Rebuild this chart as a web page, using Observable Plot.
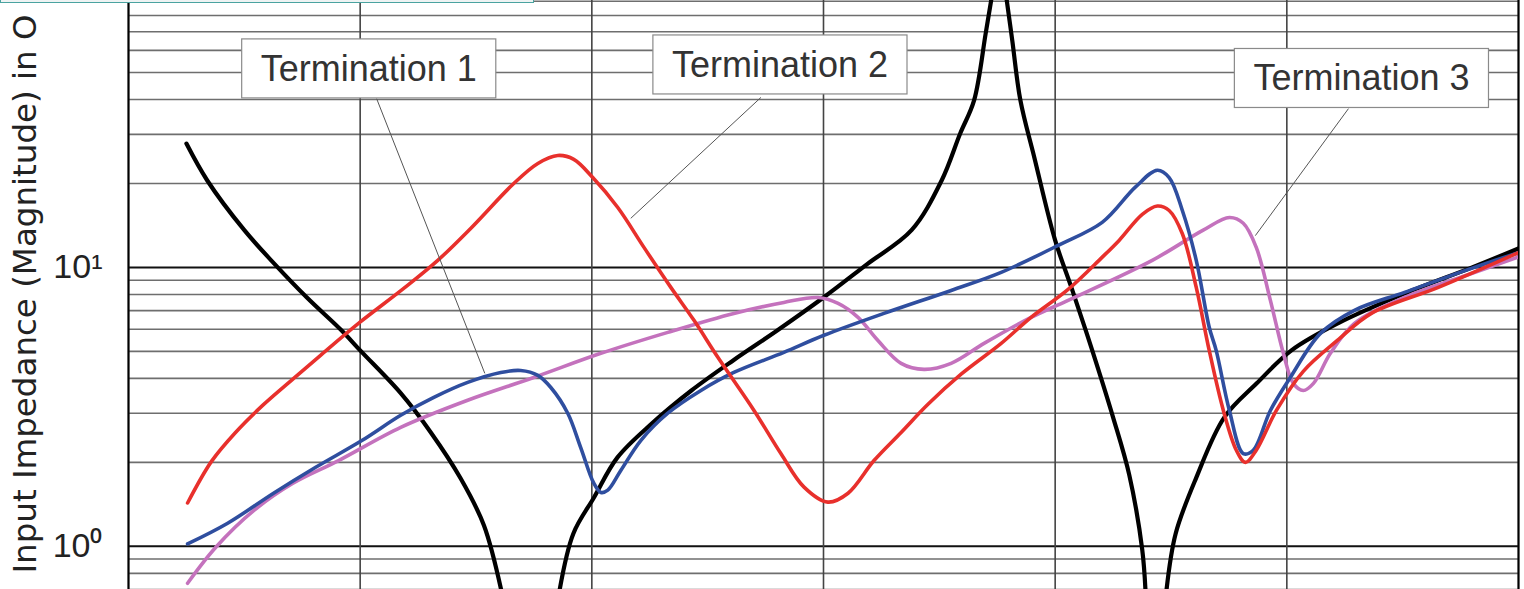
<!DOCTYPE html>
<html>
<head>
<meta charset="utf-8">
<script src="https://cdn.jsdelivr.net/npm/d3@7"></script>
<script src="https://cdn.jsdelivr.net/npm/@observablehq/plot@0.6"></script>
<style>
html, body { margin: 0; padding: 0; background: #fff; overflow: hidden; }
#wrap { position: relative; width: 1524px; height: 589px; }
#topbox { position: absolute; left: 0; top: -14px; width: 534px; height: 17px; border: 1.5px solid #4aa3a0; background: #eef3f3; box-sizing: border-box; z-index: 2; }
</style>
</head>
<body>
<div id="wrap"><div id="topbox"></div></div>
<script>
// ---- grid / ticks ----
const gridX = [0, 1, 2, 3, 4, 5, 6];
const gridYMinor = [0.7, 0.8, 0.9, 2, 3, 4, 5, 6, 7, 8, 9, 20, 30, 40, 50, 60, 70, 80, 90];
const gridYMajor = [1, 10];
const yTicks = [1, 10];
const yTickLabels = ["10⁰", "10¹"];
const yLabel = "Input Impedance (Magnitude) in O";

// ---- series (x in grid units, y = impedance magnitude) ; null = off-chart break ----
const blackU = [0.25,0.34,0.50,0.63,0.77,0.92,1.00,1.175,1.305,1.434,1.534,1.61, null,
  1.86,1.92,2.01,2.11,2.26,2.43,2.61,2.80,3.00,3.19,3.38,3.51,3.59,3.65,3.70,3.725, null,
  3.79,3.815,3.85,3.91,4.00,4.07,4.16,4.25,4.32,4.376,4.39, null,
  4.48,4.52,4.61,4.73,4.87,5.02,5.22,5.51,5.80,6.00];
const blackZ = [27.8,20.5,13.6,10.3,7.8,5.94,5.04,3.54,2.56,1.75,1.19,0.69, null,
  0.69,1.11,1.50,2.08,2.76,3.62,4.64,5.94,7.8,10.3,13.6,20.5,30.2,39.7,69,92, null,
  92,65,39.7,24.8,12.5,8.48,5.04,2.90,1.80,0.97,0.69, null,
  0.69,1.11,1.77,2.90,3.84,5.04,6.30,8.07,10.0,11.7];

const redU = [0.255,0.359,0.462,0.579,0.713,0.829,0.998,1.188,1.335,1.477,1.663,1.767,1.853,1.922,2.004,2.112,2.225,2.341,2.441,2.544,2.700,2.816,2.916,3.019,3.106,3.218,3.335,3.451,3.594,3.767,3.896,4.056,4.199,4.276,4.376,4.441,4.492,4.549,4.609,4.665,4.726,4.782,4.821,4.868,4.955,5.071,5.218,5.365,5.654,6.0];
const redZ = [1.43,2.02,2.56,3.20,4.00,4.84,6.35,8.41,10.6,13.8,20.0,23.6,25.2,24.4,21.0,16.4,11.8,8.48,6.46,4.76,3.07,2.15,1.63,1.44,1.55,2.03,2.56,3.23,4.14,5.34,6.62,8.34,10.8,12.5,15.5,16.6,16.0,13.2,8.48,5.04,3.07,2.21,2.0,2.21,3.07,4.24,5.47,6.84,8.48,11.3];

const blueU = [0.255,0.428,0.626,0.808,1.009,1.175,1.318,1.464,1.607,1.693,1.767,1.823,1.896,1.952,2.009,2.039,2.069,2.125,2.212,2.328,2.471,2.613,2.829,3.002,3.261,3.551,3.767,4.013,4.203,4.346,4.441,4.492,4.549,4.609,4.665,4.695,4.752,4.812,4.855,4.929,5.015,5.145,5.292,5.508,5.797,6.0];
const blueZ = [1.02,1.21,1.55,1.92,2.40,2.95,3.42,3.87,4.20,4.27,4.10,3.71,3.0,2.26,1.68,1.56,1.59,1.87,2.40,3.0,3.62,4.20,4.96,5.71,6.84,8.27,9.6,12.0,14.5,19.4,22.3,21.0,16.0,10.6,6.10,5.04,3.07,2.15,2.21,3.07,4.03,5.80,7.02,8.14,9.92,11.3];

const magentaU = [0.255,0.376,0.544,0.708,0.907,1.175,1.464,1.749,2.039,2.328,2.613,2.829,2.976,3.063,3.149,3.235,3.335,3.434,3.551,3.693,3.896,4.056,4.419,4.639,4.752,4.812,4.868,4.929,4.985,5.028,5.071,5.115,5.188,5.292,5.508,5.797,6.0];
const magentaZ = [0.737,0.99,1.35,1.68,2.03,2.67,3.34,4.03,4.92,5.85,6.84,7.49,7.8,7.43,6.62,5.47,4.53,4.31,4.53,5.34,6.62,7.62,10.6,13.6,15.1,14.4,11.8,7.62,4.92,3.84,3.62,3.84,4.92,6.30,7.8,9.51,10.9];

// ---- annotations ----
const labels = ["Termination 1", "Termination 2", "Termination 3"];
const labelU = [1.037, 2.812, 5.322];
const labelZ = [51.3, 53.0, 47.4];
const leaderU1 = [1.071, 2.730, 5.266];
const leaderZ1 = [40.3, 40.7, 37.1];
const leaderU2 = [1.538, 2.168, 4.864];
const leaderZ2 = [4.17, 15.0, 13.0];

const rows = (u, z) => u.map((x, i) => ({x, y: z[i]}));
const black = rows(blackU, blackZ);
const red = rows(redU, redZ);
const blue = rows(blueU, blueZ);
const magenta = rows(magentaU, magentaZ);
const annots = labels.map((t, i) => ({t, x: labelU[i], y: labelZ[i]}));
const leaders = labels.map((t, i) => ({x1: leaderU1[i], y1: leaderZ1[i], x2: leaderU2[i], y2: leaderZ2[i]}));

const chart = Plot.plot({
  width: 1524, height: 589,
  marginLeft: 128, marginRight: 6, marginTop: 0, marginBottom: 0,
  x: {domain: [0, 6], axis: null},
  y: {type: "log", domain: [0.70, 90.6], axis: null},
  style: {background: "#fff", fontFamily: "'Liberation Sans', Arial, sans-serif", overflow: "visible"},
  marks: [
    Plot.ruleY(gridYMinor, {stroke: "#6e6e6e", strokeWidth: 1.6}),
    Plot.ruleY(gridYMajor, {stroke: "#111", strokeWidth: 2}),
    Plot.ruleX(gridX, {stroke: "#444", strokeWidth: 1.6}),
    Plot.ruleX([0, 6], {stroke: "#000", strokeWidth: 2}),
    Plot.axisY(yTicks, {anchor: "left", tickSize: 0, tickPadding: 26, fontSize: 34, label: null,
      tickFormat: d => yTickLabels[yTicks.indexOf(d)], fill: "#222"}),
    Plot.text([yLabel], {frameAnchor: "bottom-left", rotate: -90, textAnchor: "start", lineAnchor: "middle",
      dx: -103, dy: -16, fontSize: 32.5, fontFamily: "'DejaVu Sans', sans-serif", fill: "#222", text: d => d}),
    Plot.line(black, {x: "x", y: "y", stroke: "#000", strokeWidth: 4.2, curve: "catmull-rom", clip: true}),
    Plot.line(magenta, {x: "x", y: "y", stroke: "#c472bd", strokeWidth: 3.6, curve: "catmull-rom", clip: true}),
    Plot.line(blue, {x: "x", y: "y", stroke: "#2f4e9f", strokeWidth: 3.6, curve: "catmull-rom", clip: true}),
    Plot.line(red, {x: "x", y: "y", stroke: "#e8302c", strokeWidth: 3.6, curve: "catmull-rom", clip: true}),
    Plot.link(leaders, {x1: "x1", y1: "y1", x2: "x2", y2: "y2", stroke: "#555", strokeWidth: 1}),
    Plot.text(annots, {x: "x", y: "y", text: "t", fontSize: 36, fill: "#333", textAnchor: "middle", lineAnchor: "middle"})
  ]
});

document.getElementById("wrap").appendChild(chart);

// white boxes behind the termination labels
d3.select(chart).selectAll("text").filter(function () { return labels.includes(this.textContent); })
  .each(function () {
    const b = this.getBBox();
    const padX = 19, padY = 9;
    const r = document.createElementNS("http://www.w3.org/2000/svg", "rect");
    r.setAttribute("x", b.x - padX);
    r.setAttribute("y", b.y - padY);
    r.setAttribute("width", b.width + 2 * padX);
    r.setAttribute("height", b.height + 2 * padY);
    r.setAttribute("fill", "#fff");
    r.setAttribute("stroke", "#8a8a8a");
    r.setAttribute("stroke-width", "1.2");
    const tf = this.getAttribute("transform");
    if (tf) r.setAttribute("transform", tf);
    this.parentNode.insertBefore(r, this);
  });
</script>
</body>
</html>
